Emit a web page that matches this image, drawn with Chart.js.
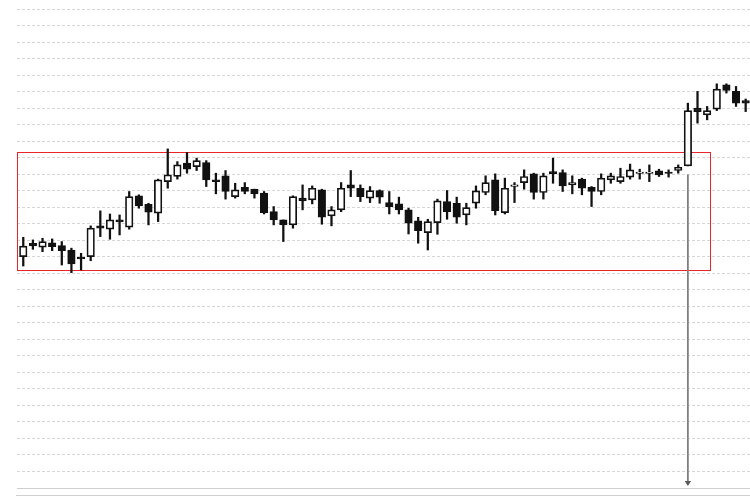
<!DOCTYPE html>
<html>
<head>
<meta charset="utf-8">
<script src="https://cdn.jsdelivr.net/npm/chart.js@4.4.1/dist/chart.umd.min.js"></script>
<style>
  html, body { margin: 0; padding: 0; background: #fff; }
  #wrap { width: 750px; height: 500px; }
</style>
</head>
<body>
<div id="wrap"><canvas id="chart"></canvas></div>
<script>
// candle values (one entry per session)
const opens = [94.01, 94.82, 94.58, 94.85, 94.67, 94.41, 93.96, 94.01, 95.87, 95.67,
  96.23, 95.79, 97.69, 97.18, 96.64, 98.55, 98.86, 99.67, 99.46, 99.70,
  98.65, 98.90, 97.64, 98.21, 98.09, 97.85, 96.73, 96.23, 95.93, 97.55,
  97.44, 98.05, 96.47, 96.84, 98.35, 98.15, 97.55, 98.01, 97.28, 97.20,
  96.84, 96.17, 95.46, 96.07, 97.34, 97.24, 96.53, 97.24, 97.89, 98.65,
  96.67, 98.26, 98.49, 99.02, 97.89, 99.16, 99.10, 98.35, 98.70, 98.21,
  97.95, 98.65, 98.55, 98.82, 99.05, 99.05, 99.20, 99.13, 99.22, 99.50,
  103.00, 102.59, 102.94, 104.41, 104.01, 103.46];
const highs = [95.18, 95.02, 95.12, 95.08, 94.92, 94.52, 94.21, 95.87, 96.78, 96.59,
  96.53, 97.95, 97.75, 97.24, 98.70, 100.53, 99.76, 100.31, 99.97, 99.82,
  99.06, 99.22, 98.45, 98.49, 98.09, 97.95, 97.04, 96.23, 97.69, 98.35,
  98.29, 98.09, 97.04, 98.49, 99.22, 98.35, 98.25, 98.05, 97.95, 97.61,
  96.94, 96.39, 96.27, 97.49, 98.01, 97.61, 97.24, 98.29, 98.90, 99.02,
  98.76, 98.49, 99.26, 99.06, 99.06, 99.97, 99.26, 98.90, 98.76, 98.25,
  99.02, 99.06, 99.36, 99.61, 99.30, 99.56, 99.30, 99.26, 99.56, 103.30,
  104.01, 103.10, 104.47, 104.47, 104.31, 103.55];
const lows = [93.44, 94.45, 94.31, 94.37, 93.50, 93.04, 93.20, 93.76, 95.22, 95.06,
  95.32, 95.67, 96.94, 95.93, 96.13, 98.15, 98.70, 99.06, 99.22, 98.25,
  97.81, 97.49, 97.55, 97.81, 97.55, 96.59, 95.93, 94.92, 95.73, 96.84,
  97.20, 95.97, 95.87, 96.73, 97.64, 97.34, 97.28, 97.24, 96.59, 96.59,
  95.38, 94.82, 94.41, 95.36, 96.27, 96.03, 95.93, 96.94, 97.75, 96.53,
  96.59, 97.28, 98.09, 97.49, 97.49, 98.45, 97.95, 97.81, 97.75, 97.04,
  97.75, 98.45, 98.45, 98.70, 98.70, 98.55, 98.86, 98.82, 99.06, 99.50,
  102.09, 102.29, 102.85, 103.91, 103.10, 102.79];
const closes = [94.65, 94.65, 94.92, 94.61, 94.37, 93.56, 93.87, 95.73, 95.73, 96.23,
  96.11, 97.64, 97.08, 96.70, 98.65, 98.96, 99.56, 99.30, 99.82, 98.65,
  98.55, 97.95, 98.05, 97.95, 97.81, 96.67, 96.23, 95.93, 97.64, 97.38,
  98.15, 96.39, 96.84, 98.15, 98.15, 97.64, 98.01, 97.61, 97.04, 96.84,
  96.03, 95.58, 96.13, 97.38, 96.73, 96.39, 96.98, 97.99, 98.49, 96.79,
  98.15, 98.35, 98.86, 97.89, 98.90, 99.02, 98.29, 98.49, 98.15, 97.95,
  98.76, 98.90, 98.86, 99.26, 99.13, 99.13, 98.96, 99.05, 99.42, 102.85,
  102.79, 102.85, 104.15, 104.07, 103.30, 103.30];

// price axis (labels are hidden in the picture)
const yMin = 80, yMax = 109, yStep = 1;
const xMin = -0.65, xMax = 75.45;

// consolidation range box and the breakout arrow
const rangeTop = 100.37, rangeBottom = 93.20;
const rangeFrom = -0.65, rangeTo = 71.25;
const breakoutIndex = 69, arrowFrom = 98.98;

const idx = opens.map((_, i) => i);
const wicks = idx.map(i => ({ x: i, y: [lows[i], highs[i]] }));
const bodies = idx.map(i => ({ x: i, y: [opens[i], closes[i]] }));
const bodyFill = idx.map(i => closes[i] >= opens[i] ? '#ffffff' : '#111111');

const extras = {
    id: 'extras',
    beforeDatasetsDraw(chart) {
        const { ctx, scales: { x, y } } = chart;
        const l = Math.round(x.getPixelForValue(rangeFrom)) + 0.5;
        const r = Math.round(x.getPixelForValue(rangeTo)) + 0.5;
        const t = Math.round(y.getPixelForValue(rangeTop)) + 0.5;
        const b = Math.round(y.getPixelForValue(rangeBottom)) + 0.5;
        ctx.save();
        ctx.strokeStyle = '#e8262a';
        ctx.lineWidth = 1;
        ctx.strokeRect(l, t, r - l, b - t);
        ctx.restore();
    },
    afterDatasetsDraw(chart) {
        const { ctx, chartArea, scales: { x, y } } = chart;
        ctx.save();
        // arrow from the breakout candle down to the axis
        const ax = x.getPixelForValue(breakoutIndex);
        const ay0 = y.getPixelForValue(arrowFrom);
        const tip = y.getPixelForValue(yMin) - 2;
        ctx.strokeStyle = '#7f7f7f';
        ctx.lineWidth = 1.8;
        ctx.beginPath();
        ctx.moveTo(ax, ay0);
        ctx.lineTo(ax, tip - 3);
        ctx.stroke();
        ctx.fillStyle = '#5a5a5a';
        ctx.beginPath();
        ctx.moveTo(ax - 3.2, tip - 5);
        ctx.lineTo(ax + 3.2, tip - 5);
        ctx.lineTo(ax, tip);
        ctx.closePath();
        ctx.fill();
        // second rule under the x axis
        ctx.strokeStyle = '#d0d0d0';
        ctx.lineWidth = 1;
        ctx.beginPath();
        ctx.moveTo(chartArea.left - 1, chartArea.bottom + 7.5);
        ctx.lineTo(chartArea.right, chartArea.bottom + 7.5);
        ctx.stroke();
        ctx.restore();
    }
};

new Chart(document.getElementById('chart'), {
    type: 'bar',
    data: {
        datasets: [
            {
                label: 'wick',
                data: wicks,
                backgroundColor: '#111111',
                barThickness: 1.6,
                grouped: false,
                order: 2
            },
            {
                label: 'body',
                data: bodies,
                backgroundColor: bodyFill,
                borderColor: '#111111',
                borderWidth: 1.7,
                borderSkipped: false,
                barThickness: 7.5,
                grouped: false,
                order: 1
            }
        ]
    },
    options: {
        responsive: true,
        maintainAspectRatio: false,
        animation: false,
        layout: { padding: { top: 9, left: 0, right: 0, bottom: 0 } },
        plugins: {
            legend: { display: false },
            tooltip: { enabled: false }
        },
        scales: {
            x: {
                type: 'linear',
                min: xMin,
                max: xMax,
                offset: false,
                ticks: { display: false },
                grid: { display: true, drawOnChartArea: false, drawTicks: false },
                border: { display: true, color: '#cfcfcf', width: 1 },
                afterFit: (s) => { s.height = 12; }
            },
            y: {
                min: yMin,
                max: yMax,
                ticks: { display: false, stepSize: yStep },
                grid: { color: '#d6d6d6', lineWidth: 1, drawTicks: false },
                border: { display: false, dash: [3, 2] },
                afterFit: (s) => { s.width = 17; }
            }
        }
    },
    plugins: [extras]
});
</script>
</body>
</html>
